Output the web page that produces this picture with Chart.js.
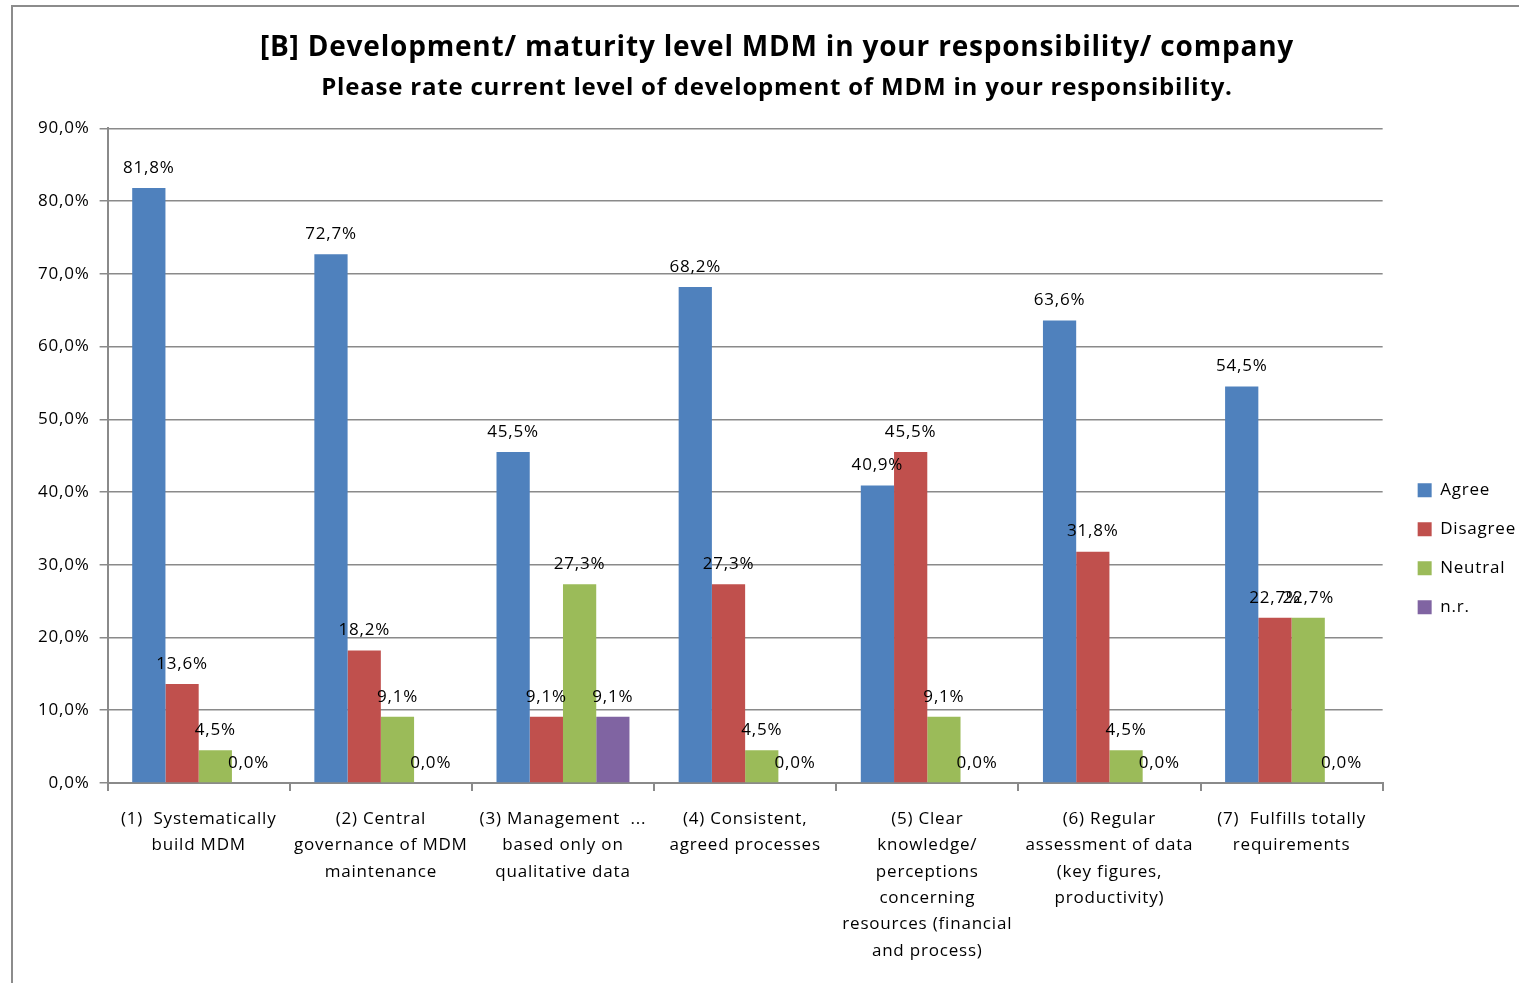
<!DOCTYPE html>
<html>
<head>
<meta charset="utf-8">
<script src="https://cdn.jsdelivr.net/npm/chart.js@4/dist/chart.umd.min.js"></script>
<style>
  body { margin: 0; background: #fff; overflow: hidden; }
  #frame { position: absolute; left: 11px; top: 5px; width: 1600px; height: 1100px; border: 2px solid #8c8c8c; }
  #chart1 { position: absolute; left: 0; top: 0; }
</style>
</head>
<body>
<div id="frame"></div>
<canvas id="chart1" width="1519" height="983"></canvas>
<script>
var categories = [
    ['(1)  Systematically', 'build MDM'],
    ['(2) Central', 'governance of MDM', 'maintenance'],
    ['(3) Management  ...', 'based only on', 'qualitative data'],
    ['(4) Consistent,', 'agreed processes'],
    ['(5) Clear', 'knowledge/', 'perceptions', 'concerning', 'resources (financial', 'and process)'],
    ['(6) Regular', 'assessment of data', '(key figures,', 'productivity)'],
    ['(7)  Fulfills totally', 'requirements']
];
var agree    = [81.8, 72.7, 45.5, 68.2, 40.9, 63.6, 54.5];
var disagree = [13.6, 18.2, 9.1, 27.3, 45.5, 31.8, 22.7];
var neutral  = [4.5, 9.1, 27.3, 4.5, 9.1, 4.5, 22.7];
var nr       = [0.0, 0.0, 9.1, 0.0, 0.0, 0.0, 0.0];

var FONT = '"Open Sans", Lato, sans-serif';
var GRID = '#8a8a8a';
var SPACING = '0.8px';

function pct(v) {
    return v.toFixed(1).replace('.', ',') + '%';
}

// the original text is spaced a bit wider, so widen it for measuring and drawing
var letterSpacing = {
    id: 'letterSpacing',
    beforeUpdate: function(chart) { chart.ctx.letterSpacing = SPACING; },
    beforeDraw: function(chart) { chart.ctx.letterSpacing = SPACING; }
};

// value labels above each bar (no datalabels plugin available offline)
var valueLabels = {
    id: 'valueLabels',
    afterDatasetsDraw: function(chart) {
        var ctx = chart.ctx;
        ctx.save();
        ctx.font = '17px ' + FONT;
        ctx.fillStyle = '#000';
        ctx.textAlign = 'center';
        ctx.textBaseline = 'middle';
        chart.data.datasets.forEach(function(ds, i) {
            chart.getDatasetMeta(i).data.forEach(function(bar, j) {
                ctx.fillText(pct(ds.data[j]), bar.x, bar.y - 20);
            });
        });
        ctx.restore();
    }
};

var ctx1 = document.getElementById('chart1').getContext('2d');
new Chart(ctx1, {
    type: 'bar',
    plugins: [letterSpacing, valueLabels],
    data: {
        labels: categories,
        datasets: [
            { label: 'Agree', data: agree, backgroundColor: '#4f81bd' },
            { label: 'Disagree', data: disagree, backgroundColor: '#c0504d' },
            { label: 'Neutral', data: neutral, backgroundColor: '#9bbb59' },
            { label: 'n.r.', data: nr, backgroundColor: '#8064a2' }
        ]
    },
    options: {
        responsive: false,
        animation: false,
        devicePixelRatio: 1,
        datasets: { bar: { categoryPercentage: 0.73, barPercentage: 1.0 } },
        layout: { padding: { left: 28, right: -7, bottom: 4 } },
        plugins: {
            title: {
                display: true,
                text: '[B] Development/ maturity level MDM in your responsibility/ company',
                color: '#000',
                font: { family: FONT, size: 28, weight: 'bold' },
                padding: { top: 31, bottom: 9 }
            },
            subtitle: {
                display: true,
                text: 'Please rate current level of development of MDM in your responsibility.',
                color: '#000',
                font: { family: FONT, size: 24, weight: 'bold' },
                padding: { top: 0, bottom: 26 }
            },
            legend: {
                position: 'right',
                title: {
                    display: true,
                    text: ' ',
                    font: { size: 12 },
                    padding: { top: 104, bottom: 0 }
                },
                labels: {
                    color: '#000',
                    font: { family: FONT, size: 17 },
                    boxWidth: 14,
                    boxHeight: 14,
                    padding: 22
                }
            },
            tooltip: { enabled: false }
        },
        scales: {
            x: {
                border: { color: GRID, width: 2 },
                grid: { offset: true, drawOnChartArea: false, color: GRID, lineWidth: 2, tickLength: 8 },
                ticks: {
                    color: '#000',
                    font: { family: FONT, size: 17, lineHeight: 1.55 },
                    maxRotation: 0,
                    autoSkip: false,
                    padding: 15
                }
            },
            y: {
                min: 0,
                max: 90,
                border: { color: GRID, width: 2 },
                grid: { color: GRID, lineWidth: 1.5, tickLength: 8 },
                ticks: {
                    stepSize: 10,
                    color: '#000',
                    font: { family: FONT, size: 17 },
                    padding: 10,
                    callback: function(v) { return pct(v); }
                }
            },
            // empty axis only to keep a gap between plot and legend
            gap: {
                position: 'right',
                display: true,
                grid: { display: false },
                border: { display: false },
                ticks: { display: false },
                afterFit: function(scale) { scale.width = 13; }
            }
        }
    }
});
</script>
</body>
</html>
